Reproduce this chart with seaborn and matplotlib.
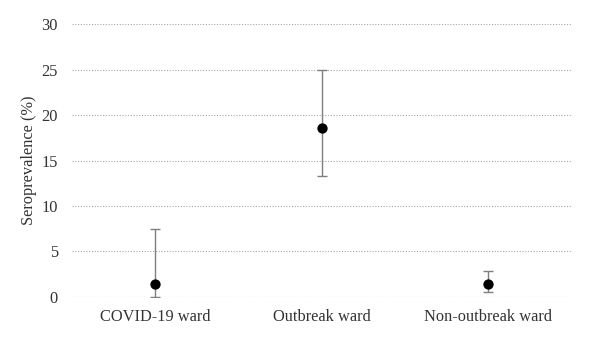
import numpy as np
import pandas as pd
import matplotlib.pyplot as plt
import seaborn as sns

wards = ["COVID-19 ward", "Outbreak ward", "Non-outbreak ward"]
prevalence = [1.4, 18.6, 1.4]
ci_low = [0.0, 13.3, 0.5]
ci_high = [7.5, 24.9, 2.8]

df = pd.DataFrame({"ward": wards, "prev": prevalence, "lo": ci_low, "hi": ci_high})

sns.set_style("white")
plt.rcParams["font.family"] = ["Liberation Serif", "DejaVu Serif"]

fig = plt.figure(figsize=(6, 3.39), dpi=100)
ax = fig.add_axes([0.12, 0.124, 0.833, 0.805])

x = np.arange(len(wards))
yerr = [df["prev"] - df["lo"], df["hi"] - df["prev"]]
ax.errorbar(x, df["prev"], yerr=yerr, fmt="none", ecolor="#7f7f7f",
            elinewidth=1, capsize=3.5, capthick=1, zorder=2)
sns.scatterplot(data=df, x="ward", y="prev", ax=ax, color="black", s=55,
                edgecolor="black", linewidth=0, zorder=3, legend=False)

ax.set_xlim(-0.5, 2.5)
ax.set_ylim(0, 30)
ax.set_yticks(range(0, 31, 5))
ax.yaxis.grid(True, linestyle=(0, (1, 1.5)), color="#a6a6a6", linewidth=0.8)
ax.set_axisbelow(True)
for s in ax.spines.values():
    s.set_visible(False)
ax.tick_params(axis="both", length=0, labelsize=11.8, colors="#333333")
ax.tick_params(axis="y", pad=10)
ax.tick_params(axis="x", pad=9)
ax.set_xlabel("")
ax.set_ylabel("Seroprevalence (%)", fontsize=11.8, color="#333333", labelpad=3)

fig.savefig("out.png", dpi=100)
